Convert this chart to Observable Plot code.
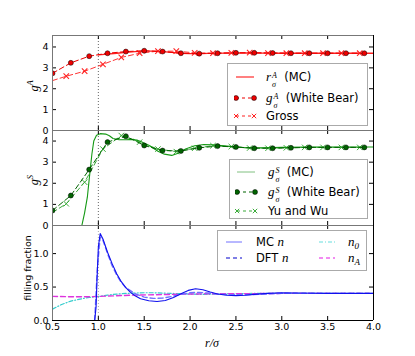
<!DOCTYPE html>
<html><head><meta charset="utf-8">
<script src="https://cdn.jsdelivr.net/npm/d3@7"></script>
<script src="https://cdn.jsdelivr.net/npm/@observablehq/plot@0.6"></script>
<style>
body{margin:0;background:#fff}
#wrap{position:relative;width:415px;height:356px;font-family:"DejaVu Sans",sans-serif;color:#000;overflow:hidden}
#wrap svg.plot{position:absolute;left:0}
.leg{position:absolute;background:#fff;border:1px solid #aaa;box-sizing:border-box;font-size:11.5px}
.row{position:absolute;left:0;height:14px;line-height:14px;white-space:nowrap}
.row svg{position:absolute;top:0}
.lbl{position:absolute;top:0}
.m{font-family:"Liberation Serif",serif;font-style:italic;font-size:13px}
.ss{display:inline-block;font-family:"Liberation Serif",serif;font-style:italic;font-size:8px;line-height:9.5px;vertical-align:-6px;margin-left:1px}
.ss span{display:block;height:9.5px}
.ylab{position:absolute;transform:translate(-50%,-50%) rotate(-90deg);white-space:nowrap}
</style></head>
<body><div id="wrap"></div>
<script>
// ---------- data ----------
const xTicks = [0.5, 1.0, 1.5, 2.0, 2.5, 3.0, 3.5, 4.0];
const yTicksG = [0, 1, 2, 3, 4];
const yTicksN = [0, 0.5, 1.0];

// panel 1: g^A
const xMC_A = [1.0, 1.1, 1.2, 1.3, 1.4, 1.5, 1.6, 1.7, 1.8, 1.9, 2.0, 2.1, 2.2, 2.4, 2.6, 2.8, 3.0, 3.5, 4.0];
const gA_MC = [3.62, 3.66, 3.70, 3.74, 3.78, 3.80, 3.80, 3.78, 3.74, 3.70, 3.68, 3.68, 3.69, 3.71, 3.72, 3.71, 3.70, 3.70, 3.70];
const xWB = [0.5, 0.7, 0.9, 1.1, 1.3, 1.5, 1.7, 1.9, 2.1, 2.3, 2.5, 2.7, 2.9, 3.1, 3.3, 3.5, 3.7, 3.9];
const gA_WB = [2.74, 3.24, 3.56, 3.70, 3.78, 3.82, 3.78, 3.70, 3.68, 3.70, 3.72, 3.72, 3.71, 3.70, 3.70, 3.70, 3.70, 3.70];
const xAlt = [0.5, 0.65, 0.85, 1.05, 1.25, 1.45, 1.65, 1.85, 2.05, 2.25, 2.45, 2.65, 2.85, 3.05, 3.25, 3.45, 3.65, 3.85];
const gA_Gross = [2.39, 2.60, 2.84, 3.17, 3.50, 3.70, 3.80, 3.80, 3.72, 3.70, 3.72, 3.73, 3.71, 3.70, 3.70, 3.70, 3.70, 3.70];

// panel 2: g^S
const xMC_S = [0.82, 0.85, 0.88, 0.91, 0.93, 0.95, 0.98, 1.02, 1.08, 1.12, 1.16, 1.22, 1.3, 1.38, 1.45, 1.55, 1.65, 1.72, 1.8, 1.87, 1.95, 2.05, 2.15, 2.25, 2.4, 2.6, 2.8, 3.0, 3.3, 3.6, 4.0];
const gS_MC = [0, 0.6, 1.34, 2.6, 3.4, 4.0, 4.28, 4.35, 4.33, 4.25, 4.12, 4.07, 4.06, 4.08, 4.0, 3.8, 3.52, 3.38, 3.32, 3.42, 3.62, 3.78, 3.84, 3.82, 3.76, 3.68, 3.68, 3.70, 3.72, 3.72, 3.72];
const gS_WB = [0.71, 1.42, 2.65, 3.95, 4.23, 3.79, 3.55, 3.53, 3.68, 3.76, 3.72, 3.66, 3.66, 3.68, 3.70, 3.70, 3.70, 3.70];
const gS_YW = [0.62, 1.03, 2.05, 3.62, 4.26, 3.95, 3.62, 3.50, 3.66, 3.78, 3.74, 3.67, 3.66, 3.68, 3.70, 3.70, 3.70, 3.70];

// panel 3: filling fractions
const xMCn = [0.96, 0.975, 0.985, 1.0, 1.02, 1.05, 1.1, 1.15, 1.2, 1.25, 1.3, 1.35, 1.4, 1.46, 1.55, 1.64, 1.73, 1.82, 1.9, 1.98, 2.06, 2.14, 2.22, 2.3, 2.4, 2.5, 2.6, 2.7, 2.85, 3.0, 3.2, 3.5, 4.0];
const nMC = [0, 0.2, 0.6, 1.1, 1.3, 1.22, 1.02, 0.85, 0.70, 0.58, 0.49, 0.42, 0.37, 0.325, 0.295, 0.285, 0.30, 0.345, 0.40, 0.45, 0.475, 0.46, 0.425, 0.395, 0.378, 0.372, 0.378, 0.39, 0.405, 0.415, 0.41, 0.405, 0.405];
const xDFTn = [0.96, 0.99, 1.02, 1.05, 1.1, 1.15, 1.2, 1.25, 1.3, 1.4, 1.5, 1.6, 1.7, 1.8, 1.9, 2.0, 2.1, 2.2, 2.3, 2.45, 2.6, 2.8, 3.0, 3.5, 4.0];
const nDFT = [0, 0.8, 1.25, 1.2, 1.0, 0.82, 0.68, 0.57, 0.49, 0.40, 0.35, 0.33, 0.335, 0.36, 0.39, 0.415, 0.42, 0.41, 0.395, 0.385, 0.385, 0.395, 0.405, 0.405, 0.405];
const xN0 = [0.5, 0.6, 0.7, 0.8, 0.9, 1.0, 1.1, 1.2, 1.3, 1.4, 1.5, 1.6, 1.7, 1.8, 1.9, 2.0, 2.1, 2.2, 2.3, 2.5, 2.7, 3.0, 4.0];
const n0 = [0.17, 0.24, 0.29, 0.32, 0.345, 0.36, 0.38, 0.395, 0.405, 0.41, 0.415, 0.415, 0.41, 0.405, 0.40, 0.395, 0.39, 0.39, 0.395, 0.40, 0.405, 0.405, 0.405];
const xNA = [0.5, 0.7, 0.9, 1.0, 1.1, 1.2, 1.4, 1.6, 1.8, 2.0, 2.2, 2.5, 3.0, 4.0];
const nA = [0.36, 0.355, 0.355, 0.36, 0.365, 0.37, 0.38, 0.385, 0.39, 0.395, 0.40, 0.40, 0.405, 0.405];

// ---------- layout ----------
const W = 415, ML = 52, MR = 42, PH = 95, PW = W - ML - MR;
const xDomain = [0.5, 4.0];
const font = {fontFamily: "DejaVu Sans", fontSize: "9.5px", background: "transparent", overflow: "visible", color: "black"};

function frame(yd, ticksY, fmt, dotColor) {
  return {
    under: [Plot.ruleX([1.0], {stroke: dotColor, strokeDasharray: "1,2"})],
    over: [
      Plot.tickX(xTicks, {x: d => d, insetBottom: PH - 4, stroke: "black"}),
      Plot.tickX(xTicks, {x: d => d, insetTop: PH - 4, stroke: "black"}),
      Plot.tickY(ticksY, {y: d => d, insetRight: PW - 4, stroke: "black"}),
      Plot.tickY(ticksY, {y: d => d, insetLeft: PW - 4, stroke: "black"}),
      Plot.ruleX([xDomain[0]], {stroke: "#777"}),
      Plot.ruleX([xDomain[1]], {stroke: "black"}),
      Plot.ruleY([yd[1]], {stroke: "#777"}),
      Plot.ruleY([yd[0]], {stroke: "black"}),
      Plot.axisY(ticksY, {tickSize: 0, tickPadding: 4, tickFormat: fmt, label: null})
    ]
  };
}

const wrap = document.getElementById("wrap");

// panel 1
const yd1 = [0, 4.55];
const f1 = frame(yd1, yTicksG, d => d, "#666");
const p1 = Plot.plot({
  width: W, height: 35 + PH, marginLeft: ML, marginRight: MR, marginTop: 35, marginBottom: 0,
  style: font,
  x: {domain: xDomain, axis: null},
  y: {domain: yd1},
  marks: [
    ...f1.under,
    Plot.line(gA_Gross, {x: xAlt, y: gA_Gross, stroke: "#ff3333", strokeWidth: 1, strokeDasharray: "5,3", clip: true}),
    Plot.dot(gA_Gross, {x: xAlt, y: gA_Gross, filter: (d, i) => i > 0, symbol: "times", r: 2.6, stroke: "#ff2222", strokeWidth: 1.1, clip: true}),
    Plot.line(gA_MC, {x: xMC_A, y: gA_MC, stroke: "#ff2020", strokeWidth: 1.3, clip: true}),
    Plot.line(gA_WB, {x: xWB, y: gA_WB, stroke: "#ee0000", strokeWidth: 1, strokeDasharray: "5,3", clip: true}),
    Plot.dot(gA_WB, {x: xWB, y: gA_WB, r: 2.5, fill: "#ee0000", stroke: "black", strokeWidth: 0.5, clip: true}),
    ...f1.over
  ]
});
p1.style.top = "0px";
wrap.appendChild(p1);

// panel 2
const yd2 = [0, 4.5];
const f2 = frame(yd2, yTicksG, d => d, "#666");
const p2 = Plot.plot({
  width: W, height: PH, marginLeft: ML, marginRight: MR, marginTop: 0, marginBottom: 0,
  style: font,
  x: {domain: xDomain, axis: null},
  y: {domain: yd2},
  marks: [
    ...f2.under,
    Plot.line(gS_YW, {x: xAlt, y: gS_YW, stroke: "#3aaa3a", strokeWidth: 1, strokeDasharray: "5,3", clip: true}),
    Plot.dot(gS_YW, {x: xAlt, y: gS_YW, filter: (d, i) => i > 0, symbol: "times", r: 2.6, stroke: "#3aaa3a", strokeWidth: 1, clip: true}),
    Plot.line(gS_MC, {x: xMC_S, y: gS_MC, stroke: "#159915", strokeWidth: 1.1, clip: true}),
    Plot.line(gS_WB, {x: xWB, y: gS_WB, stroke: "#006400", strokeWidth: 1, strokeDasharray: "5,3", clip: true}),
    Plot.dot(gS_WB, {x: xWB, y: gS_WB, r: 2.5, fill: "#006400", stroke: "black", strokeWidth: 0.5, clip: true}),
    ...f2.over
  ]
});
p2.style.top = "130px";
wrap.appendChild(p2);

// panel 3
const yd3 = [0, 1.42];
const f3 = frame(yd3, yTicksN, d3.format(".1f"), "#aaa");
const p3 = Plot.plot({
  width: W, height: PH + 36, marginLeft: ML, marginRight: MR, marginTop: 0, marginBottom: 36,
  style: font,
  x: {domain: xDomain},
  y: {domain: yd3},
  marks: [
    ...f3.under,
    Plot.line(n0, {x: xN0, y: n0, stroke: "#33cccc", strokeWidth: 1.2, strokeDasharray: "4,2,1,2", clip: true}),
    Plot.line(nA, {x: xNA, y: nA, stroke: "#dd33dd", strokeWidth: 1.4, strokeDasharray: "5,3", clip: true}),
    Plot.line(nDFT, {x: xDFTn, y: nDFT, stroke: "#7070ff", strokeWidth: 1.4, strokeDasharray: "5,3", clip: true}),
    Plot.line(nMC, {x: xMCn, y: nMC, stroke: "#1010ee", strokeWidth: 1.1, clip: true}),
    ...f3.over,
    Plot.axisX(xTicks, {tickSize: 0, tickPadding: 3, tickFormat: d3.format(".1f"), label: null})
  ]
});
p3.style.top = "225px";
wrap.appendChild(p3);

// ---------- axis titles ----------
function add(html, css, cls) {
  const d = document.createElement("div");
  d.className = cls || "";
  d.innerHTML = html;
  Object.assign(d.style, css);
  wrap.appendChild(d);
  return d;
}
add('<span class="m" style="font-size:12px">g</span><span style="font-family:Liberation Serif;font-style:italic;font-size:8.5px;vertical-align:5px">A</span>', {left: "33px", top: "86px", fontSize: "9.5px"}, "ylab");
add('<span class="m" style="font-size:12px">g</span><span style="font-family:Liberation Serif;font-style:italic;font-size:8.5px;vertical-align:5px">S</span>', {left: "33px", top: "180px", fontSize: "9.5px"}, "ylab");
add('filling fraction', {left: "27px", top: "268px", fontSize: "9.5px"}, "ylab");
add('<span class="m" style="font-size:12px">r/σ</span>', {position: "absolute", left: "212px", top: "341px", transform: "translate(-50%,-50%)"});

// ---------- legends ----------
function sw(kind, color, dash, w) {
  const W2 = w || 24;
  let s = `<svg width="${W2}" height="14" style="left:0">`;
  s += `<line x1="2" x2="${W2 - 4}" y1="7" y2="7" stroke="${color}" stroke-width="${kind.lw || 1.2}" ${dash ? `stroke-dasharray="${dash}"` : ""}/>`;
  if (kind.m === "o") for (const cx of [2, W2 - 4]) s += `<circle cx="${cx}" cy="7" r="2.5" fill="${color}" stroke="black" stroke-width="0.5"/>`;
  if (kind.m === "x") for (const cx of [2, W2 - 4]) s += `<path d="M${cx - 2.2},4.8L${cx + 2.2},9.2M${cx - 2.2},9.2L${cx + 2.2},4.8" stroke="${color}" stroke-width="1"/>`;
  return s + "</svg>";
}
function math(b, sup, sub) {
  return `<span class="m">${b}</span><span class="ss"><span>${sup}</span><span>${sub}</span></span>`;
}
function legend(box, rows) {
  const d = add("", {left: box[0] + "px", top: box[1] + "px", width: box[2] + "px", height: box[3] + "px"}, "leg");
  for (const r of rows) {
    const row = document.createElement("div");
    row.className = "row";
    row.style.top = (r.cy - 7) + "px";
    row.style.left = r.sx + "px";
    row.innerHTML = r.sw + `<span class="lbl" style="left:${r.tx - r.sx}px">${r.html}</span>`;
    d.appendChild(row);
  }
}
legend([227, 63, 141, 63], [
  {cy: 13, sx: 6, tx: 38, sw: sw({lw: 2}, "#ff8080", null), html: math("r", "A", "σ") + '&nbsp;&nbsp;(MC)'},
  {cy: 34, sx: 6, tx: 38, sw: sw({m: "o"}, "#ee0000", "3,3"), html: math("g", "A", "σ") + '&nbsp;&nbsp;(White Bear)'},
  {cy: 52, sx: 6, tx: 38, sw: sw({m: "x"}, "#ff2222", "3,3"), html: 'Gross'}
]);
legend([229, 159, 139, 60], [
  {cy: 12, sx: 5, tx: 38, sw: sw({lw: 1}, "#80c080", null), html: math("g", "S", "σ") + '&nbsp;&nbsp;(MC)'},
  {cy: 32, sx: 5, tx: 38, sw: sw({m: "o"}, "#006400", "3,3"), html: math("g", "S", "σ") + '&nbsp;&nbsp;(White Bear)'},
  {cy: 51, sx: 5, tx: 38, sw: sw({m: "x"}, "#3aaa3a", "3,3"), html: 'Yu and Wu'}
]);
legend([217, 230, 150, 41], [
  {cy: 11, sx: 6, tx: 38, sw: sw({lw: 1}, "#7070ff", null, 22), html: 'MC <span class="m">n</span>'},
  {cy: 27, sx: 6, tx: 38, sw: sw({lw: 1.2}, "#0000cc", "4,3", 22), html: 'DFT <span class="m">n</span>'},
  {cy: 11, sx: 99, tx: 130, sw: sw({lw: 1.2}, "#66dddd", "4,2,1,2", 22), html: '<span class="m">n</span><span style="font-family:Liberation Serif;font-style:italic;font-size:9px;vertical-align:-3px">0</span>'},
  {cy: 27, sx: 99, tx: 130, sw: sw({lw: 1.6}, "#ee66ee", "4,3", 22), html: '<span class="m">n</span><span style="font-family:Liberation Serif;font-style:italic;font-size:9px;vertical-align:-3px">A</span>'}
]);
</script>
</body></html>
